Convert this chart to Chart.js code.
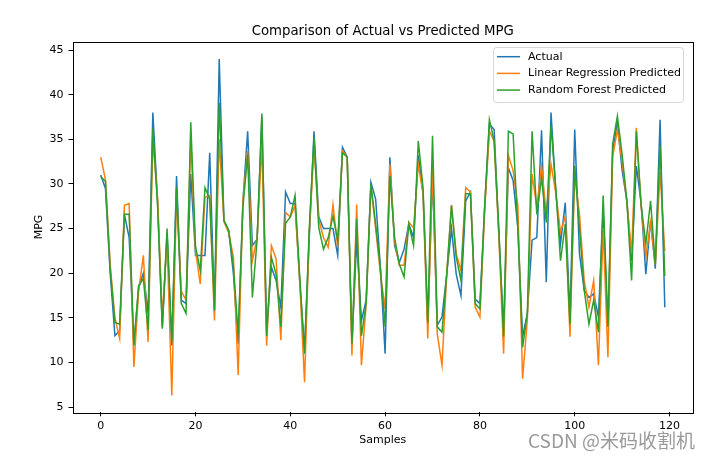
<!DOCTYPE html>
<html lang="en">
  <head>
    <meta charset="UTF-8" />
    <title>Comparison of Actual vs Predicted MPG</title>
    <style>
      * { margin: 0; padding: 0; }
      body { background: #fff; }
      #myChart { display: block; }
    </style>
  </head>
  <body>
    <canvas id="myChart" width="714" height="458"></canvas>

    <script src="https://cdn.jsdelivr.net/npm/chart.js"></script>
    <script>
      // data block
      const actual = [
        31.0, 29.5, 20.0, 13.0, 13.6, 26.6, 24.0, 12.0, 18.4, 20.0,
        15.5, 38.0, 28.0, 14.0, 24.5, 11.9, 30.9, 17.0, 16.6, 31.1,
        22.0, 22.0, 22.0, 33.5, 16.0, 44.0, 25.9, 24.8, 19.9, 12.1,
        28.0, 35.9, 23.1, 23.8, 37.5, 13.6, 20.7, 19.2, 16.2, 29.1,
        27.8, 27.8, 19.0, 11.4, 24.0, 35.9, 26.3, 25.0, 25.0, 25.0,
        22.0, 34.1, 33.0, 12.0, 23.7, 14.7, 17.0, 30.2, 28.3, 20.7,
        11.0, 33.0, 23.1, 21.2, 22.7, 25.5, 24.0, 33.2, 29.0, 14.2,
        31.0, 14.2, 15.1, 19.9, 25.0, 19.9, 17.5, 28.1, 29.1, 17.1,
        16.6, 27.4, 36.7, 36.1, 24.4, 13.6, 31.8, 30.4, 25.1, 12.9,
        15.5, 23.7, 24.0, 36.0, 19.0, 38.0, 29.2, 23.3, 27.9, 15.1,
        36.1, 22.2, 18.1, 17.3, 17.7, 15.1, 27.0, 14.0, 33.7, 36.9,
        31.5, 28.1, 21.4, 32.0, 27.9, 19.9, 25.9, 20.5, 37.2, 16.2
      ];
      const linearPred = [
        33.0, 30.5, 21.0, 15.0, 12.7, 27.6, 27.8, 9.5, 18.0, 22.0,
        12.3, 35.0, 28.5, 15.0, 23.7, 6.3, 28.9, 18.0, 17.0, 35.0,
        22.5, 18.8, 28.5, 28.7, 14.7, 35.0, 25.8, 24.5, 21.8, 8.6,
        28.1, 33.7, 21.4, 24.0, 34.5, 11.9, 23.1, 21.6, 12.5, 26.8,
        26.3, 27.6, 19.0, 7.8, 24.5, 34.1, 26.0, 24.0, 22.9, 27.7,
        22.9, 33.7, 33.0, 10.8, 27.7, 9.7, 16.5, 29.8, 25.0, 20.0,
        16.0, 32.2, 23.5, 20.9, 20.9, 25.7, 25.1, 32.2, 28.9, 12.7,
        32.0, 13.2, 9.7, 19.9, 27.6, 22.2, 20.3, 29.6, 29.1, 16.2,
        15.1, 27.0, 35.9, 34.8, 24.0, 11.0, 33.2, 31.5, 27.6, 8.2,
        14.8, 31.1, 27.4, 32.0, 26.6, 32.2, 29.0, 24.6, 26.4, 12.9,
        31.0, 26.6, 19.2, 16.2, 19.2, 9.7, 25.1, 10.6, 33.0, 36.1,
        32.5, 28.0, 22.2, 36.3, 27.5, 21.8, 25.7, 21.0, 31.3, 22.5
      ];
      const forestPred = [
        30.8, 30.3, 20.5, 14.5, 14.3, 26.6, 26.6, 11.9, 18.6, 19.4,
        13.6, 36.2, 27.5, 13.8, 25.0, 12.3, 29.6, 16.6, 15.5, 36.9,
        23.0, 20.3, 29.6, 28.3, 15.8, 39.1, 25.9, 24.8, 20.7, 13.2,
        27.4, 33.3, 17.3, 23.8, 37.9, 13.0, 21.8, 19.9, 14.0, 25.6,
        26.3, 28.7, 19.5, 11.0, 25.0, 35.2, 25.1, 22.7, 24.0, 26.4,
        23.7, 33.5, 33.0, 12.1, 26.1, 13.0, 16.6, 30.0, 25.5, 20.5,
        14.0, 30.9, 24.0, 21.0, 19.6, 25.5, 23.1, 34.8, 29.6, 14.5,
        35.4, 14.0, 13.4, 19.9, 27.6, 21.8, 19.2, 28.9, 28.9, 16.6,
        16.0, 27.5, 37.2, 34.8, 24.8, 12.9, 35.9, 35.6, 25.0, 11.7,
        15.5, 35.9, 26.6, 30.7, 25.7, 36.5, 29.5, 21.4, 25.5, 14.3,
        32.0, 25.1, 18.1, 14.3, 17.0, 13.4, 28.7, 14.0, 34.5, 37.6,
        33.3, 28.1, 19.2, 35.9, 27.7, 23.3, 28.1, 21.0, 34.3, 19.7
      ];
      const samples = actual.map((v, i) => i);
      const xTicks = [0, 20, 40, 60, 80, 100, 120];
      const yTicks = [5, 10, 15, 20, 25, 30, 35, 40, 45];

      const seriesNames = ["Actual", "Linear Regression Predicted", "Random Forest Predicted"];
      const seriesColors = ["#1f77b4", "#ff7f0e", "#2ca02c"];

      const font = "'DejaVu Sans', sans-serif";

      // title, frame, legend and watermark drawn like matplotlib
      const mplDecor = {
        id: "mplDecor",
        beforeDraw: (chart) => {
          const { ctx } = chart;
          ctx.save();
          ctx.fillStyle = "#fff";
          ctx.fillRect(0, 0, chart.width, chart.height);
          ctx.restore();
        },
        afterDraw: (chart) => {
          const { ctx, chartArea: a } = chart;
          ctx.save();

          // frame
          ctx.strokeStyle = "#000";
          ctx.lineWidth = 1;
          ctx.strokeRect(Math.round(a.left) + 0.5, Math.round(a.top) + 0.5,
            Math.round(a.right - a.left) - 1, Math.round(a.bottom - a.top));

          // title
          ctx.fillStyle = "#000";
          ctx.font = "13.3px " + font;
          ctx.textAlign = "center";
          ctx.textBaseline = "alphabetic";
          ctx.fillText("Comparison of Actual vs Predicted MPG", (a.left + a.right) / 2, 35);

          // legend
          const bx = 493, by = 47, bw = 190, bh = 55;
          ctx.beginPath();
          ctx.roundRect(bx + 0.5, by + 0.5, bw, bh, 3);
          ctx.fillStyle = "rgba(255,255,255,0.8)";
          ctx.fill();
          ctx.strokeStyle = "#d6d6d6";
          ctx.lineWidth = 1;
          ctx.stroke();
          ctx.font = "11px " + font;
          ctx.textAlign = "left";
          ctx.textBaseline = "middle";
          seriesNames.forEach((name, i) => {
            const y = 56.7 + i * 16.7;
            ctx.strokeStyle = seriesColors[i];
            ctx.lineWidth = 1.5;
            ctx.beginPath();
            ctx.moveTo(497, y);
            ctx.lineTo(520, y);
            ctx.stroke();
            ctx.fillStyle = "#000";
            ctx.fillText(name, 528, y);
          });

          // watermark
          ctx.font = "19px 'Noto Sans CJK SC', sans-serif";
          ctx.fillStyle = "rgba(110,110,110,0.7)";
          ctx.textAlign = "left";
          ctx.textBaseline = "alphabetic";
          ctx.fillText("CSDN @米码收割机", 528, 448);
          ctx.restore();
        }
      };

      const data = {
        labels: samples,
        datasets: [
          { label: seriesNames[0], data: actual, order: 3 },
          { label: seriesNames[1], data: linearPred, order: 2 },
          { label: seriesNames[2], data: forestPred, order: 1 }
        ].map((d, i) => ({
          ...d,
          borderColor: seriesColors[i],
          backgroundColor: seriesColors[i],
          borderWidth: 1.5,
          pointRadius: 0,
          tension: 0,
          fill: false
        }))
      };

      const config = {
        type: "line",
        data,
        options: {
          responsive: false,
          animation: false,
          devicePixelRatio: 1,
          layout: { padding: { top: 41.7, right: 21, left: 0, bottom: 0 } },
          plugins: {
            legend: { display: false },
            tooltip: { enabled: false },
            title: { display: false }
          },
          scales: {
            x: {
              type: "linear",
              min: -5.95,
              max: 124.95,
              afterBuildTicks: (s) => { s.ticks = xTicks.map((v) => ({ value: v })); },
              afterFit: (s) => { s.height = 45.7; },
              grid: { display: true, drawOnChartArea: false, drawTicks: true, tickLength: 4, color: "#000" },
              border: { display: false },
              ticks: { color: "#000", font: { family: font, size: 11 }, padding: 3, maxRotation: 0 },
              title: { display: true, text: "Samples", color: "#000", font: { family: font, size: 11 }, padding: { top: 0, bottom: 11.4 } }
            },
            y: {
              type: "linear",
              min: 4.43,
              max: 45.93,
              afterBuildTicks: (s) => { s.ticks = yTicks.map((v) => ({ value: v })); },
              afterFit: (s) => { s.width = 72.5; },
              grid: { display: true, drawOnChartArea: false, drawTicks: true, tickLength: 4, color: "#000" },
              border: { display: false },
              ticks: { color: "#000", font: { family: font, size: 11 }, padding: 5 },
              title: { display: true, text: "MPG", color: "#000", font: { family: font, size: 11 }, padding: { top: 32.4, bottom: 0 } }
            }
          }
        },
        plugins: [mplDecor]
      };

      // init render block
      const myChart = new Chart(document.getElementById("myChart"), config);
    </script>
  </body>
</html>
